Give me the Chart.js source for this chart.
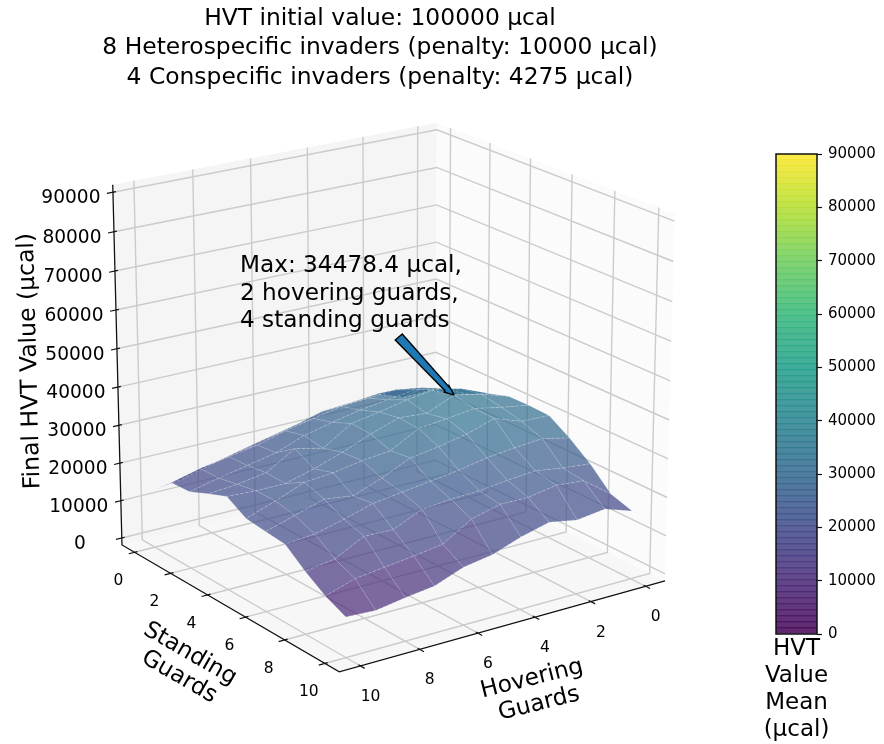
<!DOCTYPE html>
<html>
<head>
<meta charset="utf-8">
<title>HVT surface</title>
<script src="https://cdn.jsdelivr.net/npm/chart.js@4"></script>
<style>
  body { margin: 0; background: #fff; }
  #wrap { position: relative; width: 884px; height: 744px; }
  canvas { position: absolute; top: 0; }
</style>
</head>
<body>
<div id="wrap">
  <canvas id="surfaceChart" width="760" height="744" style="left:0"></canvas>
  <canvas id="colorbarChart" width="124" height="744" style="left:760px"></canvas>
</div>
<script>
// Final HVT value, one list per standing guard count, hovering guards 0..10 left to right
const standing0 = [22500, 22200, 24900, 24200, 23700, 21700, 20000, 18300, 16500, 14500, 13400];
const standing1 = [23800, 27300, 28500, 28000, 27500, 26000, 24500, 22500, 21200, 19900, 18000];
const standing2 = [26300, 29500, 31000, 30000, 29000, 27500, 25800, 23000, 21500, 20000, 18300];
const standing3 = [29000, 32000, 33500, 32500, 31000, 29700, 25000, 26700, 22200, 21000, 20400];
const standing4 = [30700, 33000, 34478, 31400, 32000, 29500, 26500, 24000, 22000, 22000, 22400];
const standing5 = [30800, 32000, 33400, 32500, 31700, 27700, 26900, 25600, 25000, 22000, 19400];
const standing6 = [30600, 30800, 33300, 31000, 29500, 28400, 25000, 22300, 23300, 21000, 18800];
const standing7 = [27200, 28800, 28200, 27400, 26000, 25000, 24000, 23000, 20800, 19000, 18300];
const standing8 = [23000, 23700, 24800, 24200, 23300, 23000, 22300, 19000, 19200, 15400, 14200];
const standing9 = [17700, 23000, 23700, 22400, 22500, 20600, 16100, 15000, 14100, 13200, 10800];
const standing10 = [15900, 18300, 17400, 18700, 16800, 14200, 13000, 10200, 9200, 8000, 8400];
const surfaceRows = [standing0, standing1, standing2, standing3, standing4, standing5,
    standing6, standing7, standing8, standing9, standing10];

const hoverTicks = [0, 2, 4, 6, 8, 10];
const standingTicks = [0, 2, 4, 6, 8, 10];
const valueTicks = [0, 10000, 20000, 30000, 40000, 50000, 60000, 70000, 80000, 90000];

const titleLines = ["HVT initial value: 100000 µcal",
    "8 Heterospecific invaders (penalty: 10000 µcal)",
    "4 Conspecific invaders (penalty: 4275 µcal)"];
const noteLines = ["Max: 34478.4 µcal,", "2 hovering guards,", "4 standing guards"];
const colorbarTitle = ["HVT", "Value", "Mean", "(µcal)"];

// axis limits of the 3d box, a bit wider than the ticks
const gridMin = -0.708, gridMax = 10.708;
const valueMin = -1875, valueMax = 91875;

// camera, same idea as a matplotlib 3d axes
const azim = 55 * Math.PI / 180, elev = 20 * Math.PI / 180, camDist = 10;
const scaleX = 396.5, scaleY = 387, centerX = 390.4, centerY = 384;

const font = '"DejaVu Sans"';
const titleLineHeight = 29.5, titlePad = 4;
const titleHeight = titleLines.length * titleLineHeight + titlePad;

function project(hover, standing, value) {
    const a = (hover - gridMin) / (gridMax - gridMin) - 0.5;
    const b = (standing - gridMin) / (gridMax - gridMin) - 0.5;
    const c = (value - valueMin) / (valueMax - valueMin) - 0.5;
    const sa = Math.sin(azim), ca = Math.cos(azim), se = Math.sin(elev), ce = Math.cos(elev);
    const right = -sa * a + ca * b;
    const up = -ca * se * a - sa * se * b + ce * c;
    const depth = ca * ce * a + sa * ce * b + se * c;
    const f = 1 / (1 - depth / camDist);
    return { x: centerX + scaleX * f * right, y: centerY - scaleY * f * up, depth: depth };
}

// viridis colormap stops
const viridisStops = [[68, 1, 84], [72, 40, 120], [62, 73, 137], [49, 104, 142], [38, 130, 142],
    [31, 158, 137], [53, 183, 121], [109, 205, 89], [180, 222, 44], [253, 231, 37]];

function viridis(t, alpha) {
    const p = Math.min(Math.max(t, 0), 1) * (viridisStops.length - 1);
    const i = Math.min(Math.floor(p), viridisStops.length - 2);
    const w = p - i;
    const c = viridisStops[i].map((v, k) => Math.round(v + (viridisStops[i + 1][k] - v) * w));
    return "rgba(" + c[0] + "," + c[1] + "," + c[2] + "," + alpha + ")";
}

function polygon(points, color, edge) {
    return {
        data: points.concat([points[0]]),
        showLine: true,
        fill: "shape",
        backgroundColor: color,
        borderColor: edge || "transparent",
        borderWidth: edge ? 1.4 : 0,
        borderDash: [5000, 1], // keeps chart.js off its fast path, which moves vertices
        borderJoinStyle: "miter",
        pointRadius: 0,
        tension: 0
    };
}

function polyline(points, color, width, dash) {
    return {
        data: points,
        showLine: true,
        fill: false,
        borderColor: color,
        borderWidth: width,
        borderDash: dash || [5000, 1],
        pointRadius: 0,
        tension: 0
    };
}

const layers = [];

// back walls and floor
const wallLeft = "#f5f5f5", wallRight = "#fbfbfb", floorColor = "#f7f7f7", gridColor = "#cbcbcb";
layers.push(polygon([project(gridMax, gridMin, valueMin), project(gridMin, gridMin, valueMin),
    project(gridMin, gridMin, valueMax), project(gridMax, gridMin, valueMax)], wallLeft));
layers.push(polygon([project(gridMin, gridMin, valueMin), project(gridMin, gridMax, valueMin),
    project(gridMin, gridMax, valueMax), project(gridMin, gridMin, valueMax)], wallRight));
layers.push(polygon([project(gridMin, gridMin, valueMin), project(gridMax, gridMin, valueMin),
    project(gridMax, gridMax, valueMin), project(gridMin, gridMax, valueMin)], floorColor));

hoverTicks.forEach(t => {
    layers.push(polyline([project(t, gridMax, valueMin), project(t, gridMin, valueMin),
        project(t, gridMin, valueMax)], gridColor, 1.4));
});
standingTicks.forEach(t => {
    layers.push(polyline([project(gridMax, t, valueMin), project(gridMin, t, valueMin),
        project(gridMin, t, valueMax)], gridColor, 1.4));
});
valueTicks.forEach(v => {
    layers.push(polyline([project(gridMax, gridMin, v), project(gridMin, gridMin, v),
        project(gridMin, gridMax, v)], gridColor, 1.4));
});

// surface cells, far ones first
const cells = [];
for (let s = 0; s < surfaceRows.length - 1; s++) {
    for (let h = 0; h < surfaceRows[s].length - 1; h++) {
        const corners = [[h, s], [h + 1, s], [h + 1, s + 1], [h, s + 1]];
        const pts = corners.map(p => project(p[0], p[1], surfaceRows[p[1]][p[0]]));
        const mean = corners.reduce((sum, p) => sum + surfaceRows[p[1]][p[0]], 0) / 4;
        cells.push({ pts: pts, mean: mean, depth: pts.reduce((sum, p) => sum + p.depth, 0) / 4 });
    }
}
cells.sort((p, q) => p.depth - q.depth);
cells.forEach(c => layers.push(polygon(c.pts, viridis(c.mean / 90000, 0.7))));

// mesh lines on top of the cells
surfaceRows.forEach((row, s) => {
    layers.push(polyline(row.map((v, h) => project(h, s, v)), "rgba(255,255,255,0.28)", 1, [3, 2]));
});
surfaceRows[0].forEach((_, h) => {
    layers.push(polyline(surfaceRows.map((row, s) => project(h, s, row[h])), "rgba(255,255,255,0.22)", 0.7));
});

// axis lines and tick marks
const axisColor = "#111";
layers.push(polyline([project(gridMax, gridMin, valueMax), project(gridMax, gridMin, valueMin),
    project(gridMax, gridMax, valueMin), project(gridMin, gridMax, valueMin)], axisColor, 1.3));
valueTicks.forEach(v => {
    layers.push(polyline([project(gridMax - 0.1, gridMin, v), project(gridMax + 0.2, gridMin, v)], axisColor, 1.2));
});
standingTicks.forEach(t => {
    layers.push(polyline([project(gridMax - 0.1, t, valueMin), project(gridMax + 0.2, t, valueMin)], axisColor, 1.2));
});
hoverTicks.forEach(t => {
    layers.push(polyline([project(t, gridMax - 0.1, valueMin), project(t, gridMax + 0.2, valueMin)], axisColor, 1.2));
});

// annotation arrow, shape given as offsets from its tip
const arrowTip = project(2, 4, 34478);
const arrowShape = [[0, 0], [-10, -3], [-9, -4], [-59, -55], [-52, -61], [-5, -8], [-5, -9]];
layers.push(polygon(arrowShape.map(o => ({ x: arrowTip.x + o[0], y: arrowTip.y + o[1] })), "#1f77b4", "#000"));

// chart.js paints the first dataset last
const surfaceDatasets = layers.slice().reverse();

const textPlugin = {
    id: "boxText",
    afterDraw(chart) {
        const ctx = chart.ctx, xs = chart.scales.x, ys = chart.scales.y;
        function label(text, x, y, size, rotation, align) {
            ctx.save();
            ctx.translate(xs.getPixelForValue(x), ys.getPixelForValue(y));
            ctx.rotate((rotation || 0) * Math.PI / 180);
            ctx.font = size + "px " + font;
            ctx.fillStyle = "#000";
            ctx.textAlign = align || "center";
            ctx.textBaseline = "middle";
            ctx.fillText(text, 0, 0);
            ctx.restore();
        }
        valueTicks.forEach(v => {
            const p = project(gridMax, gridMin, v);
            label(String(v), p.x - 42, p.y + 6, 18.6);
        });
        standingTicks.forEach(t => {
            const p = project(gridMax, t, valueMin);
            label(String(t), p.x - 16, p.y + 29, 15.5);
        });
        hoverTicks.forEach(t => {
            const p = project(t, gridMax, valueMin);
            label(String(t), p.x + 10, p.y + 31, 15.5);
        });
        label("Final HVT Value (µcal)", 30, 361, 23.5, -91.5);
        label("Standing", 190, 654, 23.2, 30);
        label("Guards", 179, 677, 23.2, 30);
        label("Hovering", 532, 679, 23.2, -14);
        label("Guards", 539, 704, 23.2, -14);
        noteLines.forEach((line, i) => label(line, 240, 266 + i * 27.5, 23.2, 0, "left"));
    }
};

new Chart(document.getElementById("surfaceChart").getContext("2d"), {
    type: "scatter",
    data: { datasets: surfaceDatasets },
    plugins: [textPlugin],
    options: {
        responsive: false,
        animation: false,
        layout: { padding: 0 },
        scales: {
            x: { type: "linear", min: 0, max: 760, display: false },
            y: { type: "linear", min: titleHeight, max: 744, reverse: true, display: false }
        },
        plugins: {
            legend: { display: false },
            tooltip: { enabled: false },
            title: {
                display: true,
                text: titleLines,
                color: "#000",
                padding: { top: titlePad, bottom: 0 },
                font: { family: font, size: 23.4, weight: "normal", lineHeight: titleLineHeight / 23.4 }
            }
        }
    }
});

// colour bar, a stack of slightly overlapping translucent bands
const bandCount = 80;
const bandSize = 90000 / bandCount;
const bands = [];
for (let i = 0; i < bandCount; i++) {
    bands.push({
        data: [[i * bandSize, Math.min((i + 1.08) * bandSize, 90000)]],
        backgroundColor: viridis((i + 0.5) / bandCount, 0.85),
        barPercentage: 1,
        categoryPercentage: 1,
        borderWidth: 0
    });
}

const framePlugin = {
    id: "barFrame",
    afterDraw(chart) {
        const a = chart.chartArea, ctx = chart.ctx;
        ctx.save();
        ctx.strokeStyle = "#111";
        ctx.lineWidth = 1.5;
        ctx.strokeRect(a.left, a.top, a.right - a.left, a.bottom - a.top);
        ctx.fillStyle = "#000";
        ctx.font = "23px " + font;
        ctx.textAlign = "center";
        ctx.textBaseline = "middle";
        colorbarTitle.forEach((line, i) => {
            ctx.fillText(line, (a.left + a.right) / 2, a.bottom + 15.5 + i * 27);
        });
        ctx.restore();
    }
};

new Chart(document.getElementById("colorbarChart").getContext("2d"), {
    type: "bar",
    data: { labels: [""], datasets: bands },
    plugins: [framePlugin],
    options: {
        responsive: false,
        animation: false,
        layout: { padding: { left: 16, top: 154, right: 0, bottom: 110 } },
        scales: {
            x: { stacked: true, display: false },
            y: {
                position: "right",
                min: 0,
                max: 90000,
                border: { display: false },
                grid: { drawOnChartArea: false, drawTicks: true, tickLength: 5, color: "#111", tickWidth: 1.2 },
                ticks: {
                    stepSize: 10000,
                    color: "#000",
                    padding: 6,
                    font: { family: font, size: 15 },
                    callback: v => String(v)
                },
                afterFit(scale) { scale.width = 67; }
            }
        },
        plugins: { legend: { display: false }, tooltip: { enabled: false } }
    }
});
</script>
</body>
</html>
